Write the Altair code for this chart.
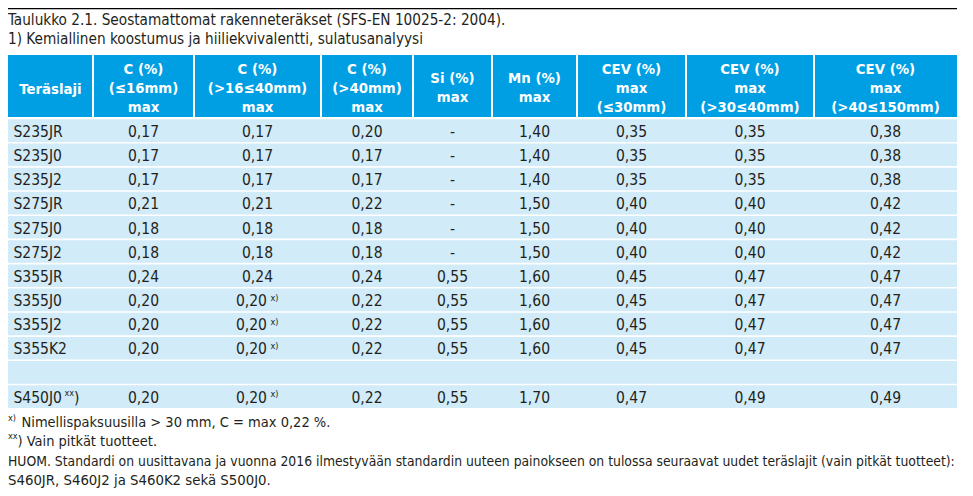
import altair as alt
import pandas as pd

# ---------------- data ----------------
TITLE = [
    "Taulukko 2.1. Seostamattomat rakenneteräkset (SFS-EN 10025-2: 2004).",
    "1) Kemiallinen koostumus ja hiiliekvivalentti, sulatusanalyysi",
]
HEADERS = [
    ["Teräslaji"],
    ["C (%)", "(≤16mm)", "max"],
    ["C (%)", "(>16≤40mm)", "max"],
    ["C (%)", "(>40mm)", "max"],
    ["Si (%)", "max"],
    ["Mn (%)", "max"],
    ["CEV (%)", "max", "(≤30mm)"],
    ["CEV (%)", "max", "(>30≤40mm)"],
    ["CEV (%)", "max", "(>40≤150mm)"],
]
GRADES = ["S235JR", "S235J0", "S235J2", "S275JR", "S275J0", "S275J2",
          "S355JR", "S355J0", "S355J2", "S355K2", "", "S450J0"]
GRADE_NOTE = ["", "", "", "", "", "", "", "", "", "", "", "xx"]
C_16 = ["0,17", "0,17", "0,17", "0,21", "0,18", "0,18", "0,24", "0,20", "0,20", "0,20", "", "0,20"]
C_16_40 = ["0,17", "0,17", "0,17", "0,21", "0,18", "0,18", "0,24", "0,20", "0,20", "0,20", "", "0,20"]
C_16_40_NOTE = ["", "", "", "", "", "", "", "x)", "x)", "x)", "", "x)"]
C_40 = ["0,20", "0,17", "0,17", "0,22", "0,18", "0,18", "0,24", "0,22", "0,22", "0,22", "", "0,22"]
SI = ["-", "-", "-", "-", "-", "-", "0,55", "0,55", "0,55", "0,55", "", "0,55"]
MN = ["1,40", "1,40", "1,40", "1,50", "1,50", "1,50", "1,60", "1,60", "1,60", "1,60", "", "1,70"]
CEV_30 = ["0,35", "0,35", "0,35", "0,40", "0,40", "0,40", "0,45", "0,45", "0,45", "0,45", "", "0,47"]
CEV_30_40 = ["0,35", "0,35", "0,35", "0,40", "0,40", "0,40", "0,47", "0,47", "0,47", "0,47", "", "0,49"]
CEV_40_150 = ["0,38", "0,38", "0,38", "0,42", "0,42", "0,42", "0,47", "0,47", "0,47", "0,47", "", "0,49"]
FOOT_SUP = ["x)", "xx", "", ""]
FOOT_TEXT = [
    "Nimellispaksuusilla > 30 mm, C = max 0,22 %.",
    ") Vain pitkät tuotteet.",
    "HUOM. Standardi on uusittavana ja vuonna 2016 ilmestyvään standardin uuteen painokseen on tulossa seuraavat uudet teräslajit (vain pitkät tuotteet):",
    "S460JR, S460J2 ja S460K2 sekä S500J0.",
]

# ---------------- layout ----------------
W, H = 957, 480
COL_EDGES = [0, 85, 186, 313, 405, 484, 569, 678, 806, 949]
HEAD_TOP, HEAD_BOT = 47, 109
ROW_TOP0, ROW_PITCH, ROW_H = 111.3, 24.18, 22.6
HEAD_BASE3 = [66, 85, 104]
HEAD_BASE2 = [75, 93.5]
HEAD_BASE1 = [85.5]
TITLE_BASE = [17, 36]
FOOT_BASE = [419.3, 437.7, 457.7, 476.5]
FOOT_X = [13.5, 9.5, 0, 0]
FOOT_SIZE = [14.5, 14.5, 13.8, 14.8]

FONT = "Liberation Sans Narrow, Arial Narrow, DejaVu Sans Condensed, sans-serif"
HEAD_BLUE = "#009FE3"
ROW_BLUE = "#D2EBF8"
INK = "#231F20"

xs = alt.Scale(domain=[0, W], nice=False, zero=False)
ys = alt.Scale(domain=[0, H], nice=False, zero=False, reverse=True)

# ---------------- rectangles ----------------
rects = []
rects.append(dict(x=0, x2=949, y=0, y2=1.3, fill="#000000"))
n = len(HEADERS)
for i in range(n):
    rects.append(dict(x=COL_EDGES[i] + (1 if i > 0 else 0),
                      x2=COL_EDGES[i + 1] - (1 if i < n - 1 else 0),
                      y=HEAD_TOP, y2=HEAD_BOT, fill=HEAD_BLUE))
for r in range(len(GRADES)):
    top = ROW_TOP0 + r * ROW_PITCH
    rects.append(dict(x=0, x2=949, y=top, y2=top + ROW_H, fill=ROW_BLUE))
rect_df = pd.DataFrame(rects)

rect_layer = alt.Chart(rect_df).mark_rect().encode(
    x=alt.X("x:Q", scale=xs, axis=None),
    x2="x2:Q",
    y=alt.Y("y:Q", scale=ys, axis=None),
    y2="y2:Q",
    color=alt.Color("fill:N", scale=None),
)


def text_layer(rows, align, size, weight="normal", color=INK):
    df = pd.DataFrame(rows, columns=["x", "y", "t"])
    return alt.Chart(df).mark_text(
        align=align, baseline="alphabetic", font=FONT, fontSize=size,
        fontWeight=weight, color=color,
    ).encode(
        x=alt.X("x:Q", scale=xs, axis=None),
        y=alt.Y("y:Q", scale=ys, axis=None),
        text="t:N",
    )


# title
title_rows = [(0, TITLE_BASE[i], t) for i, t in enumerate(TITLE)]

# header
head_rows = []
for i, lines in enumerate(HEADERS):
    cx = (COL_EDGES[i] + COL_EDGES[i + 1]) / 2
    bases = {1: HEAD_BASE1, 2: HEAD_BASE2, 3: HEAD_BASE3}[len(lines)]
    for b, t in zip(bases, lines):
        head_rows.append((cx, b, t))

# body
cols = [C_16, C_16_40, C_40, SI, MN, CEV_30, CEV_30_40, CEV_40_150]
grade_rows, center_rows, right_rows, sup_rows = [], [], [], []
for r, g in enumerate(GRADES):
    base = ROW_TOP0 + r * ROW_PITCH + 17.5
    grade_rows.append((5.5, base, g))
    if GRADE_NOTE[r]:
        sup_rows.append((56.5, base - 6.5, GRADE_NOTE[r]))
        grade_rows.append((66, base, ")"))
    for c, vals in enumerate(cols):
        cx = (COL_EDGES[c + 1] + COL_EDGES[c + 2]) / 2
        if c == 1 and C_16_40_NOTE[r]:
            right_rows.append((cx + 9.5, base, vals[r]))
            sup_rows.append((cx + 13, base - 5.5, C_16_40_NOTE[r]))
        else:
            center_rows.append((cx, base, vals[r]))

# footnotes
foot_layers = []
for i, t in enumerate(FOOT_TEXT):
    foot_layers.append(text_layer([(FOOT_X[i], FOOT_BASE[i], t)], "left", FOOT_SIZE[i]))
foot_sup_rows = [(0, FOOT_BASE[i] - 6.5, s) for i, s in enumerate(FOOT_SUP) if s]

chart = alt.layer(
    rect_layer,
    text_layer(title_rows, "left", 15.2),
    text_layer(head_rows, "center", 14.8, "bold", "#FFFFFF"),
    text_layer(grade_rows, "left", 15.5),
    text_layer(center_rows, "center", 15.5),
    text_layer(right_rows, "right", 15.5),
    text_layer(sup_rows, "left", 9),
    *foot_layers,
    text_layer(foot_sup_rows, "left", 9),
).properties(
    width=W, height=H, padding=0, autosize=alt.AutoSizeParams(type="none")
).configure_view(stroke=None)

chart.save("out.html", embed_options={"renderer": "svg", "actions": False})
